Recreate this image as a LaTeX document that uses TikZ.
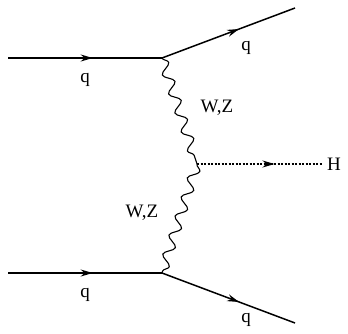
\documentclass[tikz,border=0pt]{standalone}
\usepackage{fontspec}
\setmainfont{Liberation Serif}
\usetikzlibrary{decorations.pathmorphing,decorations.markings,arrows.meta}
\begin{document}
\begin{tikzpicture}[x=1pt,y=-1pt,
  fermion/.style={line width=1.5pt,postaction={decorate},decoration={markings,mark=at position #1 with {\arrow{Stealth[length=12pt,width=7pt]}}}},
  boson/.style={line width=1.1pt,decorate,decoration={snake,segment length=20pt,amplitude=5pt}},
  higgs/.style={line width=1.5pt,dash pattern=on 2pt off 1.5pt,postaction={decorate},decoration={markings,mark=at position 0.62 with {\arrow{Stealth[length=12pt,width=7pt]}}}},
  lbl/.style={font=\fontsize{19}{22}\selectfont,inner sep=0pt}]
\useasboundingbox (0,0) rectangle (348,333);
\coordinate (a) at (8,58);
\coordinate (v1) at (162,58);
\coordinate (b) at (295,8);
\coordinate (v2) at (197,164);
\coordinate (h) at (322,164);
\coordinate (c) at (8,273);
\coordinate (v3) at (162,273);
\coordinate (d) at (295,323);
\draw[fermion=0.55] (a) -- (v1);
\draw[fermion=0.58] (v1) -- (b);
\draw[fermion=0.55] (c) -- (v3);
\draw[fermion=0.58] (v3) -- (d);
\draw[boson] (v1) -- (v2);
\draw[boson] (v2) -- (v3);
\draw[higgs] (v2) -- (h);
\node[lbl] (hl) at (334,164) {H};
\node[lbl] (q1) at (85,80) {q};
\node[lbl] (q2) at (246,48) {q};
\node[lbl] (q3) at (85,295) {q};
\node[lbl] (q4) at (246,320) {q};
\node[lbl] (w1) at (217,108) {W,Z};
\node[lbl] (w2) at (142,213) {W,Z};
\end{tikzpicture}
\end{document}
